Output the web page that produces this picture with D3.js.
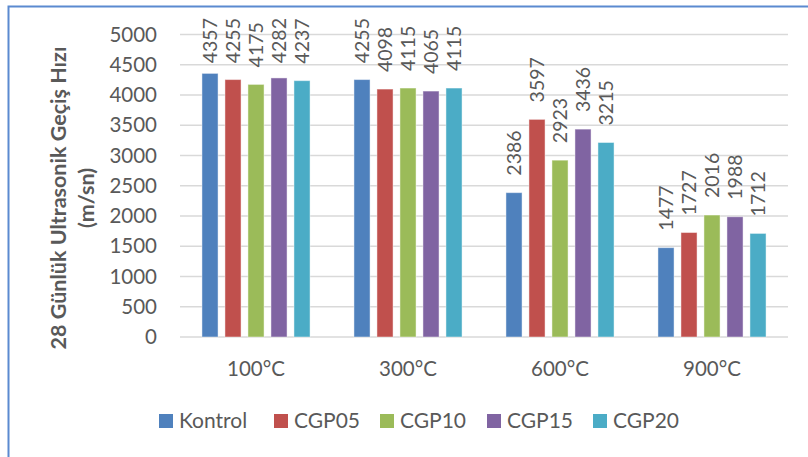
<!DOCTYPE html>
<html>
<head>
<meta charset="utf-8">
<script src="https://cdn.jsdelivr.net/npm/d3@7"></script>
<style>
  html, body { margin: 0; padding: 0; background: #fff; }
  svg { display: block; }
  text { font-family: Lato, "Open Sans", sans-serif; fill: #595959; }
</style>
</head>
<body>
<svg id="chart" width="808" height="457"></svg>
<script>
// Temperature groups along the x axis
const categories = ["100°C", "300°C", "600°C", "900°C"];

// Mixture names shown in the legend
const seriesNames = ["Kontrol", "CGP05", "CGP10", "CGP15", "CGP20"];

// 28-day ultrasonic pulse velocity (m/sn), one array per mixture, by temperature
const kontrol = [4357, 4255, 2386, 1477];
const cgp05   = [4255, 4098, 3597, 1727];
const cgp10   = [4175, 4115, 2923, 2016];
const cgp15   = [4282, 4065, 3436, 1988];
const cgp20   = [4237, 4115, 3215, 1712];

const yTicks = [0, 500, 1000, 1500, 2000, 2500, 3000, 3500, 4000, 4500, 5000];

const seriesValues = [kontrol, cgp05, cgp10, cgp15, cgp20];
const colors = ["#4F81BD", "#C0504D", "#9BBB59", "#8064A2", "#4BACC6"];

const svg = d3.select("#chart");

// Outer chart frame
svg.append("rect")
  .attr("x", 8.5).attr("y", 6.5)
  .attr("width", 900).attr("height", 600)
  .attr("fill", "none")
  .attr("stroke", "#5B8AD0")
  .attr("stroke-width", 2);

const plot = { left: 180, right: 788, top: 34.5, bottom: 337 };

const y = d3.scaleLinear().domain([0, 5000]).range([plot.bottom, plot.top]);
const x0 = d3.scaleBand().domain(categories).range([plot.left, plot.right]).padding(0);
const groupW = 115;
const x1 = d3.scaleBand()
  .domain(seriesNames)
  .range([(x0.bandwidth() - groupW) / 2, (x0.bandwidth() + groupW) / 2])
  .paddingInner(0.3).paddingOuter(0.15);

// Horizontal gridlines
svg.append("g")
  .selectAll("line")
  .data(yTicks)
  .join("line")
  .attr("x1", plot.left).attr("x2", plot.right)
  .attr("y1", d => y(d)).attr("y2", d => y(d))
  .attr("stroke", "#D9D9D9")
  .attr("stroke-width", 1.5);

// Y axis tick labels
const yAxis = d3.axisLeft(y).tickValues(yTicks).tickSize(0).tickPadding(0).tickFormat(d3.format("d"));
const yg = svg.append("g").attr("transform", "translate(157,0)").call(yAxis);
yg.select(".domain").remove();
yg.selectAll("text")
  .attr("font-size", 20.5)
  .attr("font-family", "Lato, 'Open Sans', sans-serif")
  .attr("fill", "#595959");

// X axis category labels
const xAxis = d3.axisBottom(x0).tickSize(0).tickPadding(0);
const xg = svg.append("g").attr("transform", `translate(0,${plot.bottom})`).call(xAxis);
xg.select(".domain").remove();
xg.selectAll("text")
  .attr("font-size", 20.5)
  .attr("font-family", "Lato, 'Open Sans', sans-serif")
  .attr("fill", "#595959")
  .attr("dy", null)
  .attr("y", 39);

// Y axis title (two lines)
const title = svg.append("text")
  .attr("transform", "translate(0,198) rotate(-90)")
  .attr("text-anchor", "middle")
  .attr("font-weight", "bold")
  .attr("font-size", 21.5);
title.append("tspan").attr("x", 0).attr("y", 66).text("28 Günlük Ultrasonik Geçiş Hızı");
title.append("tspan").attr("x", 0).attr("y", 94).text("(m/sn)");

// Bars and their value labels
const groups = svg.append("g")
  .selectAll("g")
  .data(categories)
  .join("g")
  .attr("transform", d => `translate(${x0(d)},0)`);

const cells = groups.selectAll("g")
  .data((c, ci) => seriesNames.map((s, si) => ({ series: s, si, value: seriesValues[si][ci] })))
  .join("g");

cells.append("rect")
  .attr("x", d => x1(d.series))
  .attr("width", x1.bandwidth())
  .attr("y", d => y(d.value))
  .attr("height", d => plot.bottom - y(d.value))
  .attr("fill", d => colors[d.si])
  .attr("stroke", "rgba(255,255,255,0.45)")
  .attr("stroke-width", 1);

const labelGap = 17;
const labelTopLimit = 18;
cells.append("text")
  .attr("font-size", 19.5)
  .attr("text-anchor", "start")
  .attr("dy", "0.36em")
  .text(d => d.value)
  .each(function (d) {
    const len = this.getComputedTextLength();
    let end = y(d.value) - labelGap;
    if (end - len < labelTopLimit) end = labelTopLimit + len;
    const cx = x1(d.series) + x1.bandwidth() / 2;
    d3.select(this).attr("transform", `translate(${cx},${end}) rotate(-90)`);
  });

// Legend
const legendX = [159, 274, 380, 487, 593];
const legend = svg.append("g")
  .selectAll("g")
  .data(seriesNames)
  .join("g")
  .attr("transform", (d, i) => `translate(${legendX[i]},414)`);
legend.append("rect")
  .attr("width", 14).attr("height", 14)
  .attr("fill", (d, i) => colors[i]);
legend.append("text")
  .attr("x", 20).attr("y", 14)
  .attr("font-size", 21)
  .text(d => d);
</script>
</body>
</html>
